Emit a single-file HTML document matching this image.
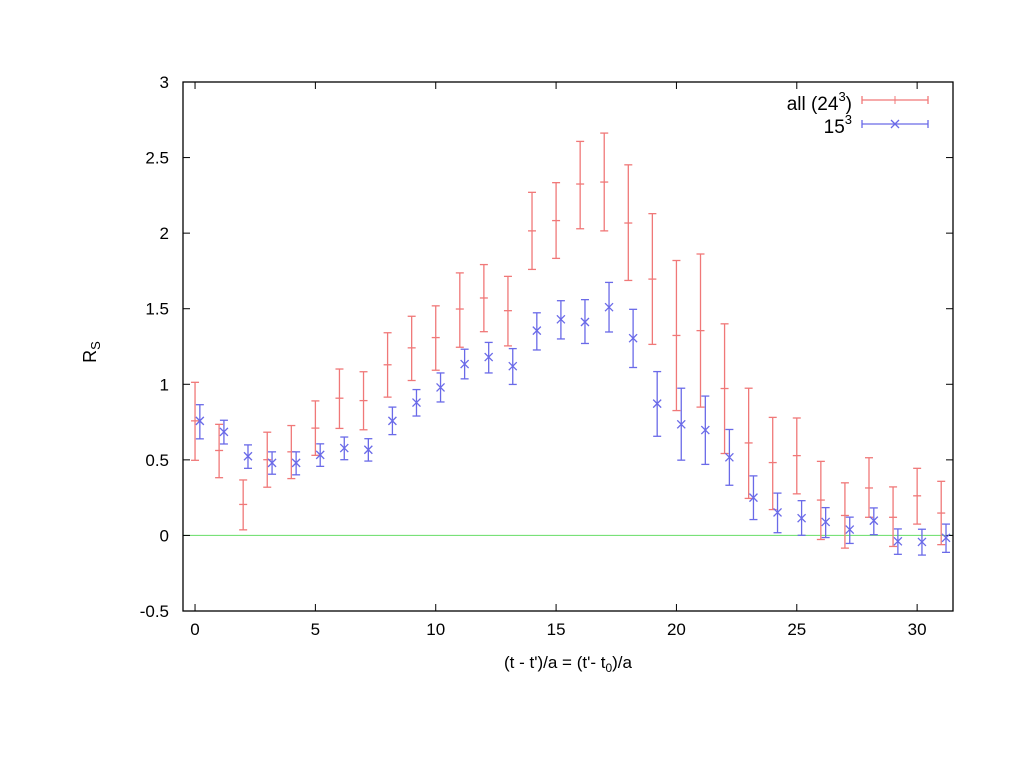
<!DOCTYPE html>
<html><head><meta charset="utf-8"><style>
body{margin:0;background:#fff}
svg text{font-family:"Liberation Sans",sans-serif;fill:#000}
</style></head><body>
<svg id="c" width="1023" height="767" xmlns="http://www.w3.org/2000/svg"></svg>
<script>
const tVals=[0,1,2,3,4,5,6,7,8,9,10,11,12,13,14,15,16,17,18,19,20,21,22,23,24,25,26,27,28,29,30,31];
const redY=[0.758,0.562,0.205,0.501,0.553,0.710,0.908,0.892,1.129,1.241,1.309,1.498,1.571,1.487,2.015,2.083,2.325,2.338,2.067,1.696,1.323,1.355,0.972,0.612,0.482,0.528,0.234,0.132,0.314,0.120,0.262,0.148];
const redHi=[1.013,0.735,0.367,0.683,0.727,0.890,1.101,1.083,1.341,1.450,1.519,1.737,1.792,1.714,2.270,2.334,2.607,2.662,2.452,2.129,1.819,1.862,1.400,0.974,0.781,0.777,0.490,0.348,0.514,0.321,0.444,0.358];
const redLo=[0.497,0.382,0.037,0.319,0.376,0.530,0.708,0.699,0.915,1.025,1.093,1.245,1.348,1.254,1.760,1.833,2.029,2.015,1.687,1.264,0.826,0.849,0.542,0.245,0.171,0.275,-0.027,-0.084,0.120,-0.073,0.075,-0.061];
const blueY=[0.758,0.685,0.524,0.480,0.480,0.533,0.578,0.567,0.758,0.879,0.979,1.134,1.180,1.120,1.355,1.430,1.412,1.510,1.305,0.872,0.735,0.697,0.517,0.250,0.152,0.114,0.089,0.039,0.098,-0.039,-0.043,-0.016];
const blueHi=[0.865,0.762,0.599,0.553,0.553,0.606,0.651,0.640,0.849,0.965,1.075,1.232,1.277,1.236,1.473,1.553,1.560,1.674,1.496,1.084,0.974,0.922,0.701,0.394,0.280,0.230,0.184,0.121,0.182,0.043,0.041,0.075];
const blueLo=[0.639,0.605,0.444,0.405,0.401,0.457,0.501,0.492,0.667,0.790,0.883,1.036,1.075,0.999,1.227,1.300,1.270,1.346,1.111,0.656,0.498,0.470,0.332,0.105,0.018,0.001,-0.014,-0.053,0.005,-0.125,-0.130,-0.112];
const xTicks=[0,5,10,15,20,25,30];
const yTicks=[-0.5,0,0.5,1,1.5,2,2.5,3];
const L=183,R=953,T=82,B=611,XMIN=-0.5,XMAX=31.49,YMIN=-0.5,YMAX=3;
const sx=v=>L+(v-XMIN)/(XMAX-XMIN)*(R-L);
const sy=v=>B-(v-YMIN)/(YMAX-YMIN)*(B-T);
const svg=document.getElementById('c');const NS='http://www.w3.org/2000/svg';
function mk(tag,attrs,parent){const e=document.createElementNS(NS,tag);for(const k in attrs)e.setAttribute(k,attrs[k]);(parent||svg).appendChild(e);return e;}
function line(x1,y1,x2,y2,st,w,p){return mk('line',{x1,y1,x2,y2,stroke:st,'stroke-width':w||1},p);}
const z=line(L,sy(0),R,sy(0),'#66dd66',1);


xTicks.forEach(v=>{const x=sx(v);line(x,B,x,B-7,'#000',1);line(x,T,x,T+7,'#000',1);
 const t=mk('text',{x:x,y:B+24,'text-anchor':'middle','font-size':17});t.textContent=v;
 
 });
yTicks.forEach(v=>{const y=sy(v);line(L,y,L+7,y,'#000',1);line(R,y,R-7,y,'#000',1);
 const t=mk('text',{x:169,y:y+6,'text-anchor':'end','font-size':17});t.textContent=v;
 
 });
function series(name,ys,hi,lo,off,col,marker){
 const g=mk('g',{});
 
 
 tVals.forEach((t,i)=>{const x=sx(t+off),yc=sy(ys[i]),yh=sy(hi[i]),yl=sy(lo[i]);
  line(x,yh,x,yl,col,1.3,g);line(x-4,yh,x+4,yh,col,1.3,g);line(x-4,yl,x+4,yl,col,1.3,g);
  if(marker==='+'){line(x-4,yc,x+4,yc,col,1.3,g);}
  else{line(x-4,yc-4,x+4,yc+4,col,1.3,g);line(x-4,yc+4,x+4,yc-4,col,1.3,g);}
 });}
series('series-all-24',redY,redHi,redLo,0,'#f07878','+');
series('series-15',blueY,blueHi,blueLo,0.2,'#6a6ae8','x');
const fr=mk('rect',{x:L,y:T,width:R-L,height:B-T,fill:'none',stroke:'#000','stroke-width':1.3});


</script>
<svg style="position:absolute;left:0;top:0" width="1023" height="767">
<g>
<text x="852" y="110" text-anchor="end" font-size="19">all (24<tspan font-size="13" dy="-9">3</tspan><tspan dy="9">)</tspan></text>
<line x1="862" y1="100" x2="928" y2="100" stroke="#f07878" stroke-width="1.3"/>
<line x1="862" y1="96" x2="862" y2="104" stroke="#f07878" stroke-width="1.3"/>
<line x1="928" y1="96" x2="928" y2="104" stroke="#f07878" stroke-width="1.3"/>
<line x1="891" y1="100" x2="899" y2="100" stroke="#f07878"/><line x1="895" y1="96" x2="895" y2="104" stroke="#f07878"/>
<text x="852" y="133" text-anchor="end" font-size="19">15<tspan font-size="13" dy="-9">3</tspan></text>
<line x1="862" y1="124" x2="928" y2="124" stroke="#6a6ae8" stroke-width="1.3"/>
<line x1="862" y1="120" x2="862" y2="128" stroke="#6a6ae8" stroke-width="1.3"/>
<line x1="928" y1="120" x2="928" y2="128" stroke="#6a6ae8" stroke-width="1.3"/>
<line x1="891" y1="120" x2="899" y2="128" stroke="#6a6ae8" stroke-width="1.3"/><line x1="891" y1="128" x2="899" y2="120" stroke="#6a6ae8" stroke-width="1.3"/>
</g>
<text x="568" y="668" text-anchor="middle" font-size="17">(t - t')/a = (t'- t<tspan font-size="12" dy="4">0</tspan><tspan dy="-4">)/a</tspan></text>
<text transform="translate(96,352) rotate(-90)" text-anchor="middle" font-size="18">R<tspan font-size="13" dy="4">S</tspan></text>
</svg>
</body></html>
